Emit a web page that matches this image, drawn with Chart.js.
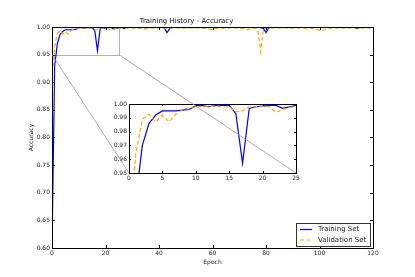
<!DOCTYPE html>
<html>
<head>
<meta charset="utf-8">
<script src="https://cdn.jsdelivr.net/npm/chart.js@4.4.0/dist/chart.umd.min.js"></script>
<style>
  html, body { margin: 0; padding: 0; background: #fff; }
  #wrap { position: relative; width: 415px; height: 277px; }
  #wrap canvas { position: absolute; left: 0; top: 0; width: 415px; height: 277px; }
</style>
</head>
<body>
<div id="wrap">
  <canvas id="mainChart" width="415" height="277"></canvas>
  <canvas id="insetChart" width="415" height="277"></canvas>
</div>
<script>
const epochs = [
  0, 1, 2, 3, 4, 5, 6, 7, 8, 9, 10, 11, 12, 13, 14, 15, 16, 17, 18, 19,
  20, 21, 22, 23, 24, 25, 26, 27, 28, 29, 30, 31, 32, 33, 34, 35, 36, 37, 38, 39,
  40, 41, 42, 43, 44, 45, 46, 47, 48, 49, 50, 51, 52, 53, 54, 55, 56, 57, 58, 59,
  60, 61, 62, 63, 64, 65, 66, 67, 68, 69, 70, 71, 72, 73, 74, 75, 76, 77, 78, 79,
  80, 81, 82, 83, 84, 85, 86, 87, 88, 89, 90, 91, 92, 93, 94, 95, 96, 97, 98, 99,
  100, 101, 102, 103, 104, 105, 106, 107, 108, 109, 110, 111, 112, 113, 114, 115, 116, 117, 118, 119
];

const trainAcc = [
  0.600, 0.930, 0.970, 0.986, 0.992, 0.995, 0.995, 0.995, 0.9955, 0.996,
  0.9988, 0.9988, 0.998, 0.999, 0.999, 0.999, 0.993, 0.957, 0.9968, 0.998,
  0.9985, 0.999, 0.999, 0.9968, 0.998, 0.999, 0.999, 0.997, 0.999, 0.9992,
  0.9995, 0.999, 0.9995, 0.9996, 0.9993, 0.999, 0.9995, 0.9996, 0.9996, 0.9994,
  0.9995, 0.9992, 0.9985, 0.990, 0.997, 0.9992, 0.9995, 0.9996, 0.9995, 0.9996,
  0.9997, 0.9996, 0.9995, 0.9997, 0.9996, 0.9997, 0.9998, 0.9996, 0.9995, 0.9997,
  0.9996, 0.9993, 0.9996, 0.9997, 0.9998, 0.9997, 0.9996, 0.9997, 0.9998, 0.9997,
  0.9996, 0.9997, 0.9995, 0.9994, 0.9996, 0.9997, 0.9996, 0.9995, 0.9990, 0.9975,
  0.990, 0.9985, 0.9995, 0.9997, 0.9996, 0.9998, 0.9997, 0.9998, 0.9997, 0.9998,
  0.9997, 0.9998, 0.9997, 0.9998, 0.9999, 0.9997, 0.9998, 0.9997, 0.9998, 0.9997,
  0.9996, 0.9997, 0.9998, 0.9997, 0.9998, 0.9999, 0.9998, 0.9997, 0.9998, 0.9999,
  0.9998, 0.9997, 0.9996, 0.9990, 0.9970, 0.9992, 0.9997, 0.9998, 0.9999, 0.9998
];

const valAcc = [
  0.905, 0.9635, 0.989, 0.9926, 0.987, 0.992, 0.987, 0.9926, 0.996, 0.9975,
  0.998, 0.998, 0.998, 0.9985, 0.998, 0.998, 0.9944, 0.995, 0.998, 0.998,
  0.9985, 0.998, 0.994, 0.996, 0.9975, 0.998, 0.9985, 0.996, 0.998, 0.9985,
  0.998, 0.9985, 0.9975, 0.998, 0.997, 0.996, 0.998, 0.9985, 0.998, 0.9985,
  0.998, 0.9985, 0.998, 0.9975, 0.998, 0.9985, 0.998, 0.9985, 0.9985, 0.998,
  0.9985, 0.998, 0.9985, 0.998, 0.9985, 0.998, 0.9975, 0.998, 0.997, 0.996,
  0.995, 0.9965, 0.998, 0.9985, 0.998, 0.9985, 0.998, 0.9985, 0.998, 0.9985,
  0.998, 0.9975, 0.996, 0.995, 0.9975, 0.998, 0.9985, 0.993, 0.955, 0.996,
  0.998, 0.9985, 0.998, 0.9985, 0.998, 0.9985, 0.998, 0.9985, 0.998, 0.9975,
  0.998, 0.9985, 0.998, 0.9985, 0.998, 0.9975, 0.9985, 0.998, 0.997, 0.9955,
  0.994, 0.993, 0.9955, 0.998, 0.9985, 0.998, 0.9985, 0.998, 0.9985, 0.998,
  0.9985, 0.998, 0.9985, 0.998, 0.9985, 0.998, 0.9985, 0.998, 0.9985, 0.998
];

const seriesNames = ['Training Set', 'Validation Set'];
const TRAIN_COLOR = '#0000ff';
const VAL_COLOR = '#ffa500';
const VAL_DASH = [4, 2.5];

// zoomed region shown by the inset
const zoomX = [0, 25];
const zoomY = [0.95, 1.00];

Chart.defaults.font.family = 'DejaVu Sans';
Chart.defaults.font.size = 6;
Chart.defaults.color = '#222';
Chart.defaults.animation = false;
Chart.defaults.responsive = false;

function makeDatasets() {
  return [
    { label: seriesNames[0], data: epochs.map((e, i) => ({ x: e, y: trainAcc[i] })),
      borderColor: TRAIN_COLOR, borderWidth: 1.2, pointRadius: 0, tension: 0, order: 1 },
    { label: seriesNames[1], data: epochs.map((e, i) => ({ x: e, y: valAcc[i] })),
      borderColor: VAL_COLOR, borderWidth: 1.2, borderDash: VAL_DASH, pointRadius: 0, tension: 0, order: 0 },
  ];
}

// matplotlib-ish frame with inward ticks on all four sides
const frameTicks = {
  id: 'frameTicks',
  afterDatasetsDraw(chart, args, opts) {
    const { ctx, chartArea: a, scales: { x, y } } = chart;
    const len = opts.len || 3;
    ctx.save();
    ctx.strokeStyle = '#000';
    ctx.lineWidth = 1;
    ctx.beginPath();
    x.ticks.forEach(t => {
      const px = Math.round(x.getPixelForValue(t.value)) + 0.5;
      ctx.moveTo(px, a.bottom); ctx.lineTo(px, a.bottom - len);
      ctx.moveTo(px, a.top); ctx.lineTo(px, a.top + len);
    });
    y.ticks.forEach(t => {
      const py = Math.round(y.getPixelForValue(t.value)) + 0.5;
      ctx.moveTo(a.left, py); ctx.lineTo(a.left + len, py);
      ctx.moveTo(a.right, py); ctx.lineTo(a.right - len, py);
    });
    ctx.stroke();
    ctx.strokeRect(Math.round(a.left) + 0.5, Math.round(a.top) + 0.5,
      Math.round(a.right - a.left), Math.round(a.bottom - a.top));
    ctx.restore();
  }
};

const zoomBox = {
  id: 'zoomBox',
  beforeDatasetsDraw(chart) {
    const { ctx, scales: { x, y } } = chart;
    const l = x.getPixelForValue(zoomX[0]), r = x.getPixelForValue(zoomX[1]);
    const t = y.getPixelForValue(zoomY[1]), b = y.getPixelForValue(zoomY[0]);
    ctx.save();
    ctx.strokeStyle = '#b4b4b4';
    ctx.lineWidth = 1;
    ctx.strokeRect(Math.round(l) + 0.5, Math.round(t) + 0.5, Math.round(r - l), Math.round(b - t));
    ctx.restore();
  }
};

const boxLegend = {
  id: 'boxLegend',
  afterDraw(chart) {
    const { ctx, chartArea: a } = chart;
    const w = 74, h = 23;
    const right = a.right - 3, bottom = a.bottom - 2;
    const left = right - w, top = bottom - h;
    ctx.save();
    ctx.fillStyle = '#fff';
    ctx.fillRect(left, top, w, h);
    ctx.strokeStyle = '#333';
    ctx.lineWidth = 1;
    ctx.strokeRect(Math.round(left) + 0.5, Math.round(top) + 0.5, w, h);
    chart.data.datasets.forEach((ds, i) => {
      const yy = top + 6.5 + i * 10.5;
      ctx.strokeStyle = ds.borderColor;
      ctx.lineWidth = 1.2;
      ctx.setLineDash(ds.borderDash || []);
      ctx.beginPath();
      ctx.moveTo(left + 4, yy); ctx.lineTo(left + 16, yy);
      ctx.stroke();
      ctx.setLineDash([]);
      ctx.fillStyle = '#222';
      ctx.font = '7px "DejaVu Sans"';
      ctx.textBaseline = 'middle';
      ctx.fillText(ds.label, left + 22, yy);
    });
    ctx.restore();
  }
};

const mainChart = new Chart(document.getElementById('mainChart'), {
  type: 'line',
  data: { datasets: makeDatasets() },
  plugins: [zoomBox, frameTicks, boxLegend],
  options: {
    devicePixelRatio: 1,
    layout: { padding: { left: 0, right: 42, top: 0, bottom: 0 } },
    plugins: {
      legend: { display: false },
      tooltip: { enabled: false },
      title: { display: true, text: 'Training History - Accuracy', color: '#111',
        font: { size: 7, weight: 'normal' }, padding: { top: 17, bottom: 1.6 } },
      frameTicks: { len: 3 },
    },
    scales: {
      x: {
        type: 'linear', min: 0, max: 120,
        ticks: { stepSize: 20, padding: 2, maxRotation: 0 },
        grid: { drawOnChartArea: false, drawTicks: false },
        border: { display: false },
        title: { display: true, text: 'Epoch', color: '#222', font: { size: 6 }, padding: { top: 0, bottom: 11 } },
        afterFit(s) { s.height = 29; },
      },
      y: {
        min: 0.60, max: 1.00,
        ticks: { stepSize: 0.05, padding: 2, callback: v => v.toFixed(2) },
        grid: { drawOnChartArea: false, drawTicks: false },
        border: { display: false },
        title: { display: true, text: 'Accuracy', color: '#222', font: { size: 6 }, padding: { top: 28, bottom: 0 } },
        afterFit(s) { s.width = 52; },
      },
    },
  },
});

const insetFrame = {
  id: 'insetFrame',
  beforeDraw(chart) {
    const { ctx, chartArea: a } = chart;
    ctx.save();
    ctx.fillStyle = '#fff';
    ctx.fillRect(a.left, a.top, a.right - a.left, a.bottom - a.top);
    ctx.restore();
  },
  afterDraw(chart) {
    // connector lines from the zoom box in the main axes to the inset corners
    const { ctx, chartArea: a } = chart;
    const mx = mainChart.scales.x, my = mainChart.scales.y;
    ctx.save();
    ctx.strokeStyle = '#999';
    ctx.lineWidth = 0.8;
    ctx.beginPath();
    ctx.moveTo(mx.getPixelForValue(zoomX[0]), my.getPixelForValue(zoomY[0]));
    ctx.lineTo(a.left, a.bottom);
    ctx.moveTo(mx.getPixelForValue(zoomX[1]), my.getPixelForValue(zoomY[0]));
    ctx.lineTo(a.right, a.bottom);
    ctx.stroke();
    ctx.restore();
  }
};

new Chart(document.getElementById('insetChart'), {
  type: 'line',
  data: { datasets: makeDatasets() },
  plugins: [insetFrame, frameTicks],
  options: {
    devicePixelRatio: 1,
    layout: { padding: { left: 107, right: 119, top: 104, bottom: 92 } },
    plugins: {
      legend: { display: false },
      tooltip: { enabled: false },
      frameTicks: { len: 2 },
    },
    scales: {
      x: {
        type: 'linear', min: zoomX[0], max: zoomX[1],
        ticks: { stepSize: 5, padding: 2, maxRotation: 0 },
        grid: { drawOnChartArea: false, drawTicks: false },
        border: { display: false },
        afterFit(s) { s.height = 12; },
      },
      y: {
        min: zoomY[0], max: zoomY[1],
        ticks: { stepSize: 0.01, padding: 2, callback: v => v.toFixed(2) },
        grid: { drawOnChartArea: false, drawTicks: false },
        border: { display: false },
        afterFit(s) { s.width = 22; },
      },
    },
  },
});
</script>
</body>
</html>
